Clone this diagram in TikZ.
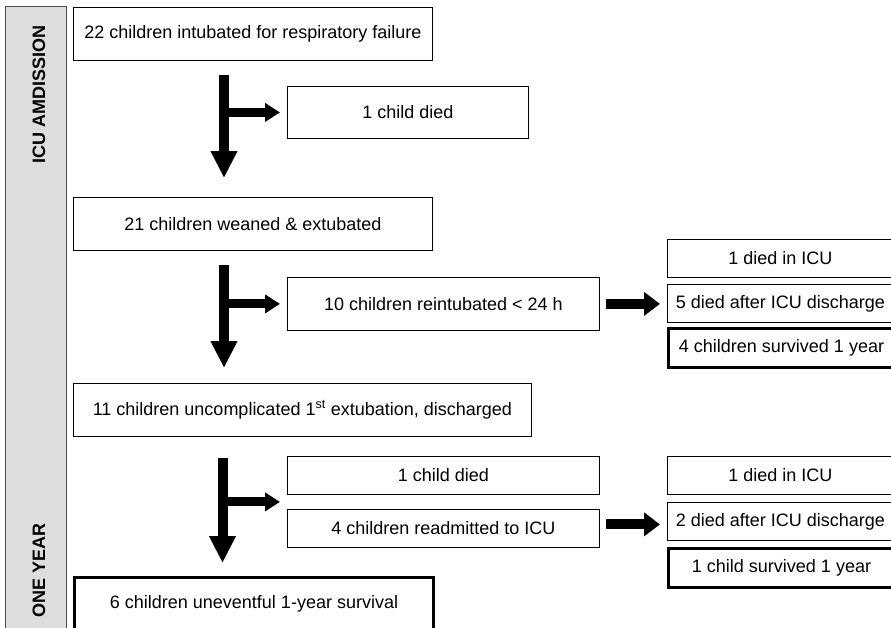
\documentclass[tikz,border=0pt]{standalone}
\usepackage{fontspec}
\setmainfont{Liberation Sans}
\usetikzlibrary{arrows.meta,positioning,calc}
\definecolor{lanegray}{RGB}{221,221,221}
\tikzset{
  flowbox/.style={draw, line width=0.8pt, anchor=north west, inner sep=2pt,
    minimum height=53pt, font=\fontsize{18}{21}\selectfont},
  smallbox/.style={flowbox, minimum height=38pt, minimum width=226pt},
  thickbox/.style={line width=3pt},
  lane/.style={draw=black!70, line width=0.8pt, fill=lanegray, anchor=north west,
    minimum width=61pt, minimum height=640pt, inner sep=0pt},
  lanelabel/.style={rotate=90, font=\fontsize{18}{21}\selectfont\bfseries},
  mainarrow/.style={line width=10pt, -{Triangle[length=27pt,width=25pt]}},
  branch/.style={line width=9pt, -{Triangle[length=15pt,width=18pt]}},
  sidearrow/.style={line width=10pt, -{Triangle[length=16pt,width=23pt]}}
}
\begin{document}
\begin{tikzpicture}[x=1pt, y=-1pt]
  \useasboundingbox (0,0) rectangle (891,627);
  \clip (0,0) rectangle (891,627);

  % time lane on the left
  \node[lane] (band) at (5,6) {};
  \node[lanelabel] (icu) at (39,94) {ICU AMDISSION};
  \node[lanelabel] (year) at (39,570) {ONE YEAR};

  % main column
  \node[flowbox, minimum width=359pt] (intub) at (73,7) {22 children intubated for respiratory failure};
  \node[flowbox, minimum width=359pt] (weaned) at (73,197) {21 children weaned \& extubated};
  \node[flowbox, minimum width=458pt] (uncomp) at (73,383) {11 children uncomplicated 1\textsuperscript{st} extubation, discharged};
  \node[flowbox, thickbox, minimum width=359pt] (uneventful) at (73,576) {6 children uneventful 1-year survival};

  % branches
  \node[flowbox, minimum width=241pt, minimum height=52pt] (died1) at (287,86) {1 child died};
  \node[flowbox, minimum width=312pt] (reint) at (287,277) {10 children reintubated < 24 h};
  \node[flowbox, minimum width=312pt, minimum height=38pt] (died2) at (287,456) {1 child died};
  \node[flowbox, minimum width=312pt, minimum height=38pt] (readm) at (287,509) {4 children readmitted to ICU};

  % outcomes after reintubation
  \node[smallbox] (icu1) at (667,239) {1 died in ICU};
  \node[smallbox] (disch1) at (667,284) {5 died after ICU discharge};
  \node[smallbox, thickbox, minimum height=39pt] (surv1) at (667,327) {4 children survived 1 year};

  % outcomes after readmission
  \node[smallbox] (icu2) at (667,456) {1 died in ICU};
  \node[smallbox] (disch2) at (667,502) {2 died after ICU discharge};
  \node[smallbox, thickbox, minimum height=39pt] (surv2) at (667,547) {1 child survived 1 year};

  % arrows
  \coordinate (v1s) at (224,75);
  \coordinate (v1e) at (224,178);
  \coordinate (v2s) at (224,265);
  \coordinate (v2e) at (224,368);
  \coordinate (v3s) at (222.5,458);
  \coordinate (v3e) at (222.5,563);
  \coordinate (mid3) at ($(died2.south west)!0.5!(readm.north west)$);

  \draw[mainarrow] (v1s) -- (v1e);
  \draw[branch] (v1s |- died1.west) -- ([xshift=-7pt]died1.west);
  \draw[mainarrow] (v2s) -- (v2e);
  \draw[branch] (v2s |- reint.west) -- ([xshift=-7pt]reint.west);
  \draw[mainarrow] (v3s) -- (v3e);
  \draw[branch] (v3s |- mid3) -- ([xshift=-7pt]mid3);

  \draw[sidearrow] ([xshift=6pt]reint.east) -- ([xshift=-7pt]reint.east -| disch1.west);
  \draw[sidearrow] ([xshift=6pt,yshift=4pt]readm.east) -- ([xshift=-7pt,yshift=4pt]readm.east -| disch2.west);
\end{tikzpicture}
\end{document}
